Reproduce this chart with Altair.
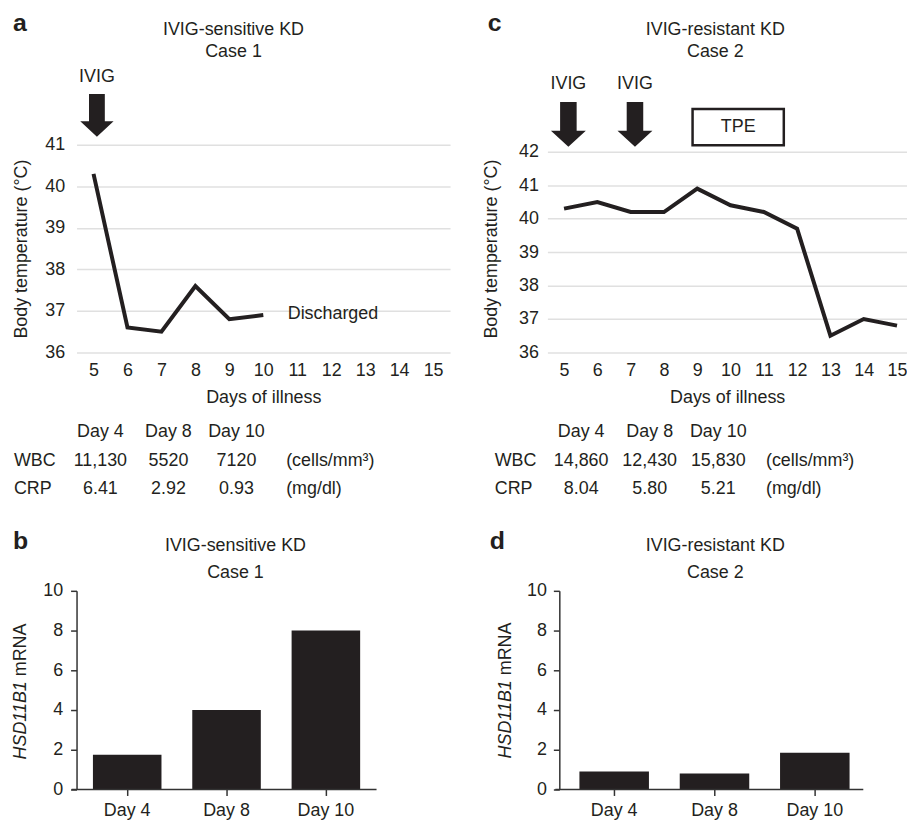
import altair as alt
import pandas as pd

FONT = "Liberation Sans"
INK = "#231f20"
GRID = "#e0e0e0"
FS = 18

# ---------------- data ----------------
days_a = [5, 6, 7, 8, 9, 10]
temp_a = [40.3, 36.6, 36.5, 37.6, 36.8, 36.9]
days_c = [5, 6, 7, 8, 9, 10, 11, 12, 13, 14, 15]
temp_c = [40.3, 40.5, 40.2, 40.2, 40.9, 40.4, 40.2, 39.7, 36.5, 37.0, 36.8]
day_ticks = [5, 6, 7, 8, 9, 10, 11, 12, 13, 14, 15]
temp_ticks_a = [36, 37, 38, 39, 40, 41]
temp_ticks_c = [36, 37, 38, 39, 40, 41, 42]

sample_days = ["Day 4", "Day 8", "Day 10"]
row_names = ["WBC", "CRP"]
units = ["(cells/mm³)", "(mg/dl)"]
wbc_a = ["11,130", "5520", "7120"]
crp_a = ["6.41", "2.92", "0.93"]
wbc_c = ["14,860", "12,430", "15,830"]
crp_c = ["8.04", "5.80", "5.21"]

mrna_b = [1.75, 4.0, 8.0]
mrna_d = [0.9, 0.8, 1.85]

title_a = ["IVIG-sensitive KD", "Case 1"]
title_c = ["IVIG-resistant KD", "Case 2"]

# annotation anchors, in data units (day of illness / degC)
ivig_days_a = [5.1]
ivig_days_c = [5.13, 7.13]
tpe_days = [8.86, 11.6]
tpe_temps = [42.2, 43.28]
discharged = (10.72, 36.93)

ARROW = "M -0.37 -1 L 0.37 -1 L 0.37 0.28 L 0.78 0.28 L 0 1 L -0.78 0.28 L -0.37 0.28 Z"
ONE = pd.DataFrame({"k": [0]})


def label(text, x, y, size=FS, weight="normal", style="normal",
          align="center", baseline="middle", angle=None):
    kw = dict(text=text, font=FONT, fontSize=size, fontWeight=weight,
              fontStyle=style, align=align, baseline=baseline, color=INK)
    if angle is not None:
        kw["angle"] = angle
    return alt.Chart(ONE).mark_text(**kw).encode(x=alt.value(x), y=alt.value(y))


def header(lines, cx, y1, y2, letter, lx, ly):
    return [label(lines[0], cx, y1), label(lines[1], cx, y2),
            label(letter, lx, ly, size=25, weight="bold", align="left",
                  baseline="alphabetic")]


def temp_panel(days, temps, width, height, xdom, ydom, yticks, ylab_pad,
               ytitle_pad, ivig_days, arrow_t, ivig_t, arrow_size, extras, head):
    xs = alt.Scale(domain=xdom, nice=False, zero=False)
    ys = alt.Scale(domain=ydom, nice=False, zero=False)
    x = alt.X("day:Q", scale=xs,
              axis=alt.Axis(values=day_ticks, format="d", title="Days of illness",
                            grid=False, domain=False, ticks=False, tickSize=0,
                            labelPadding=9, titlePadding=9, labelFlush=False,
                            labelOverlap=False))
    y = alt.Y("temp:Q", scale=ys,
              axis=alt.Axis(values=yticks, format="d", title="Body temperature (°C)",
                            grid=True, domain=False, ticks=False, tickSize=0,
                            labelPadding=ylab_pad, titlePadding=ytitle_pad,
                            labelFlush=False))
    df = pd.DataFrame({"day": days, "temp": temps})
    line = alt.Chart(df).mark_line(color=INK, strokeWidth=4, clip=False).encode(x=x, y=y)
    adf = pd.DataFrame({"day": ivig_days, "temp": [arrow_t] * len(ivig_days)})
    arrows = alt.Chart(adf).mark_point(shape=ARROW, size=arrow_size, filled=True,
                                       color=INK, opacity=1, strokeWidth=0,
                                       clip=False).encode(x=x, y=y)
    tdf = pd.DataFrame({"day": ivig_days, "temp": [ivig_t] * len(ivig_days)})
    ivig = alt.Chart(tdf).mark_text(text="IVIG", font=FONT, fontSize=FS, color=INK,
                                    baseline="middle", clip=False).encode(x=x, y=y)
    layers = [line, arrows, ivig]
    for kind, info in extras:
        if kind == "discharged":
            ddf = pd.DataFrame({"day": [info[0]], "temp": [info[1]]})
            layers.append(alt.Chart(ddf).mark_text(text="Discharged", font=FONT,
                                                   fontSize=FS, color=INK, align="left",
                                                   baseline="middle", clip=False
                                                   ).encode(x=x, y=y))
        if kind == "tpe":
            rdf = pd.DataFrame({"day": [info[0][0]], "day2": [info[0][1]],
                                "temp": [info[1][0]], "temp2": [info[1][1]]})
            layers.append(alt.Chart(rdf).mark_rect(fill="white", stroke=INK,
                                                   strokeWidth=2.5, clip=False
                                                   ).encode(x=x, x2="day2", y=y, y2="temp2"))
            cdf = pd.DataFrame({"day": [sum(info[0]) / 2], "temp": [sum(info[1]) / 2]})
            layers.append(alt.Chart(cdf).mark_text(text="TPE", font=FONT, fontSize=FS,
                                                   color=INK, baseline="middle",
                                                   clip=False).encode(x=x, y=y))
    layers += head
    return alt.layer(*layers).properties(width=width, height=height)


def table_panel(wbc, crp, width, xrange, lab_x, unit_x):
    cells = pd.DataFrame({
        "col": [0, 1, 2] * 3,
        "row": [0, 0, 0, 1, 1, 1, 2, 2, 2],
        "txt": sample_days + wbc + crp,
    })
    xs = alt.Scale(domain=[0, 2], range=xrange)
    ys = alt.Scale(domain=[0, 2], range=[60, 118])
    y = alt.Y("row:Q", scale=ys, axis=None)
    t = alt.Chart(cells).mark_text(font=FONT, fontSize=FS, color=INK,
                                   baseline="middle").encode(
        x=alt.X("col:Q", scale=xs, axis=None), y=y, text="txt:N")
    rl = alt.Chart(pd.DataFrame({"row": [1, 2], "txt": row_names})).mark_text(
        font=FONT, fontSize=FS, color=INK, align="left", baseline="middle").encode(
        x=alt.value(lab_x), y=y, text="txt:N")
    un = alt.Chart(pd.DataFrame({"row": [1, 2], "txt": units})).mark_text(
        font=FONT, fontSize=FS, color=INK, align="left", baseline="middle").encode(
        x=alt.value(unit_x), y=y, text="txt:N")
    return alt.layer(t, rl, un).properties(width=width, height=200)


def bar_panel(vals, width, pin, pout, balign, yoff, ylab_pad, rule_x0,
              ytitle_x, split_y, head):
    df = pd.DataFrame({"day": sample_days, "mrna": vals})
    x = alt.X("day:N", sort=sample_days,
              scale=alt.Scale(paddingInner=pin, paddingOuter=pout, align=balign),
              axis=alt.Axis(title=None, labelAngle=0, domain=False, ticks=True,
                            tickSize=6, tickWidth=1.5, labelPadding=6, grid=False))
    y = alt.Y("mrna:Q", scale=alt.Scale(domain=[0, 10], nice=False),
              axis=alt.Axis(values=[0, 2, 4, 6, 8, 10], title=None, grid=False,
                            tickSize=6, tickWidth=1.5, domainWidth=1.5,
                            labelPadding=ylab_pad, offset=yoff))
    bars = alt.Chart(df).mark_bar(color=INK).encode(x=x, y=y)
    base = alt.Chart(ONE).mark_rule(color="#333333", strokeWidth=1.5).encode(
        x=alt.value(rule_x0), x2=alt.value(width), y=alt.value(200))
    t1 = label("HSD11B1", ytitle_x, split_y, style="italic", align="right", angle=270)
    t2 = label("mRNA", ytitle_x, split_y - 5, align="left", angle=270)
    return alt.layer(bars, base, t1, t2, *head).properties(width=width, height=200)


panel_a = temp_panel(days_a, temp_a, 376, 209, [4.5, 15.5], [36, 41], temp_ticks_a,
                     12, 14, ivig_days_a, 41.71, 42.63, 43 ** 2,
                     [("discharged", discharged)],
                     header(title_a, 158, -116, -93, "a", -64, -115))
panel_c = temp_panel(days_c, temp_c, 362, 209, [4.5, 15.3], [36, 42.21], temp_ticks_c,
                     9, 18, ivig_days_c, 42.82, 44.02, 45 ** 2,
                     [("tpe", (tpe_days, tpe_temps))],
                     header(title_c, 169, -116, -93, "c", -60, -115))
tab_a = table_panel(wbc_a, crp_a, 376, [24, 161], -63, 211)
tab_c = table_panel(wbc_c, crp_c, 362, [34, 172], -53, 220)
panel_b = bar_panel(mrna_b, 302, 0.31, 0.165, 0.5, 0, 8, -5, -56, 91,
                    header(title_a, 160, -45, -18, "b", -64, -42))
panel_d = bar_panel(mrna_d, 318, 0.307, 0.228, 0.7, -12, 7, 8, -42, 90,
                    header(title_c, 169, -45, -18, "d", -58, -42))

chart = alt.concat(panel_a, panel_c, tab_a, tab_c, panel_b, panel_d,
                   columns=2, bounds="flush",
                   spacing={"row": 20, "column": 98}).properties(
    padding={"left": 4, "top": 0, "right": 0, "bottom": 0}
).configure_axis(
    labelFont=FONT, titleFont=FONT, labelFontSize=FS, titleFontSize=FS,
    labelColor=INK, titleColor=INK, titleFontWeight="normal",
    gridColor=GRID, gridWidth=1.5, domainColor="#333333", tickColor="#333333",
).configure_view(stroke=None)

chart.save("out.html", embed_options={"renderer": "svg", "actions": False})
